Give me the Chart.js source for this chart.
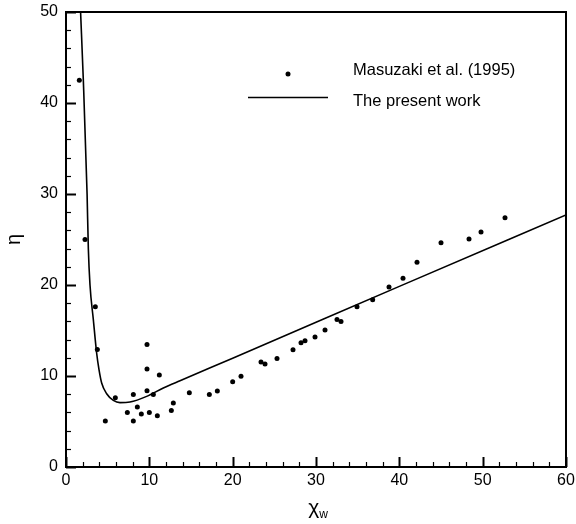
<!DOCTYPE html>
<html>
<head>
<meta charset="utf-8">
<title>eta vs chi_w</title>
<script src="https://cdn.jsdelivr.net/npm/chart.js@4.4.1/dist/chart.umd.min.js"></script>
<style>
  html, body { margin: 0; padding: 0; background: #fff; }
  #wrap { width: 576px; height: 524px; }
</style>
</head>
<body>
<div id="wrap"><canvas id="etaChart"></canvas></div>
<script>
// Masuzaki et al. (1995) measured points
var measX = [1.6, 2.28, 3.52, 3.76, 4.72, 5.92, 7.36, 8.08, 8.08, 8.56, 9.04, 9.72, 9.72, 9.72, 10.0, 10.48, 10.96, 11.2,
             12.64, 12.88, 14.8, 17.2, 18.16, 20.0, 21.0, 23.4, 23.88, 25.32, 27.24, 28.2, 28.68, 29.88, 31.08, 32.52,
             33.0, 34.92, 36.8, 38.76, 40.44, 42.12, 45.0, 48.36, 49.8, 52.68];
var measY = [42.5, 25.0, 17.6, 12.9, 5.05, 7.62, 6.0, 7.98, 5.05, 6.59, 5.82, 13.47, 10.77, 8.38, 6.0, 7.98, 5.64, 10.1,
             6.22, 7.03, 8.16, 7.98, 8.35, 9.37, 9.96, 11.54, 11.32, 11.93, 12.89, 13.66, 13.88, 14.29, 15.05, 16.22,
             16.0, 17.6, 18.38, 19.78, 20.73, 22.49, 24.65, 25.05, 25.82, 27.4];

// the present work (curve)
var curveX = [1.75, 2.08, 2.53, 2.68, 2.88, 3.28, 3.68, 3.96, 4.28, 4.88, 5.68, 6.48, 7.68, 9.68, 11.68, 13.68, 20, 40, 60];
var curveY = [50, 42.5, 30, 24, 20, 16.2, 12.5, 10.7, 9.23, 8.05, 7.32, 7.07, 7.14, 7.76, 8.68, 9.48, 11.95, 19.85, 27.7];

var xTicks = [0, 10, 20, 30, 40, 50, 60];
var yTicks = [0, 10, 20, 30, 40, 50];
var seriesNames = ['Masuzaki et al. (1995)', 'The present work'];

var FONT = "'Liberation Sans', Arial, Helvetica, sans-serif";

function pairs(xs, ys) {
  return xs.map(function (x, i) { return { x: x, y: ys[i] }; });
}

// frame, inward ticks, legend and x title
var decor = {
  id: 'decor',
  afterDraw: function (chart) {
    var ctx = chart.ctx, a = chart.chartArea;
    var sx = chart.scales.x, sy = chart.scales.y;
    ctx.save();
    ctx.strokeStyle = '#000';
    for (var v = 0; v <= 60; v += 2) {
      var px = Math.round(sx.getPixelForValue(v)) + 0.5;
      var len = (v % 10 === 0) ? 10 : 5;
      ctx.lineWidth = (v % 10 === 0) ? 2 : 1.2;
      ctx.beginPath(); ctx.moveTo(px, a.bottom); ctx.lineTo(px, a.bottom - len); ctx.stroke();
    }
    for (var w = 0; w <= 50; w += 2) {
      var py = Math.round(sy.getPixelForValue(w)) + 0.5;
      var l2 = (w % 10 === 0) ? 10 : 5;
      ctx.lineWidth = (w % 10 === 0) ? 2 : 1.2;
      ctx.beginPath(); ctx.moveTo(a.left, py); ctx.lineTo(a.left + l2, py); ctx.stroke();
    }
    ctx.lineWidth = 2;
    ctx.strokeRect(a.left, a.top, a.right - a.left, a.bottom - a.top);

    // legend
    ctx.fillStyle = '#000';
    ctx.beginPath(); ctx.arc(288, 74, 2.5, 0, Math.PI * 2); ctx.fill();
    ctx.lineWidth = 1.5;
    ctx.beginPath(); ctx.moveTo(248, 97.5); ctx.lineTo(328, 97.5); ctx.stroke();
    ctx.font = '16.5px ' + FONT;
    ctx.textBaseline = 'alphabetic';
    ctx.textAlign = 'left';
    ctx.fillText(seriesNames[0], 353, 74.5);
    ctx.fillText(seriesNames[1], 353, 106);

    // x axis title: chi with subscript w, centred under the axis
    ctx.font = '21px ' + FONT;
    var chiW = ctx.measureText('\u03C7').width;
    ctx.font = '12px ' + FONT;
    var wW = ctx.measureText('w').width;
    var x0 = (a.left + a.right) / 2 + 2 - (chiW + wW) / 2;
    ctx.font = '21px ' + FONT;
    ctx.fillText('\u03C7', x0, 514);
    ctx.font = '12px ' + FONT;
    ctx.fillText('w', x0 + chiW, 518);
    ctx.restore();
  }
};

var ctx = document.getElementById('etaChart').getContext('2d');
var etaChart = new Chart(ctx, {
  type: 'scatter',
  data: {
    datasets: [{
      label: seriesNames[0],
      data: pairs(measX, measY),
      pointRadius: 2.5,
      pointBackgroundColor: '#000',
      pointBorderWidth: 0,
      showLine: false
    }, {
      label: seriesNames[1],
      data: pairs(curveX, curveY),
      showLine: true,
      borderColor: '#000',
      borderWidth: 1.6,
      pointRadius: 0,
      cubicInterpolationMode: 'monotone',
      clip: 0
    }]
  },
  plugins: [decor],
  options: {
    responsive: true,
    maintainAspectRatio: false,
    animation: false,
    layout: { padding: { top: 12, right: 10, left: 0, bottom: 0 } },
    plugins: {
      legend: { display: false },
      tooltip: { enabled: false }
    },
    scales: {
      x: {
        type: 'linear',
        min: 0, max: 60,
        afterBuildTicks: function (s) { s.ticks = xTicks.map(function (v) { return { value: v }; }); },
        afterFit: function (s) { s.height = 57; s.paddingLeft = 0; s.paddingRight = 0; },
        grid: { display: false, drawTicks: false },
        border: { display: false },
        ticks: { color: '#000', padding: 4, maxRotation: 0, font: { size: 16, family: FONT } }
      },
      y: {
        type: 'linear',
        min: 0, max: 50,
        afterBuildTicks: function (s) { s.ticks = yTicks.map(function (v) { return { value: v }; }); },
        afterFit: function (s) { s.width = 66; s.paddingTop = 0; s.paddingBottom = 0; },
        grid: { display: false, drawTicks: false },
        border: { display: false },
        title: { display: true, text: '\u03B7', color: '#000', padding: { top: 2, bottom: 0 }, font: { size: 20, family: FONT } },
        ticks: { color: '#000', padding: 8, font: { size: 16, family: FONT } }
      }
    }
  }
});
</script>
</body>
</html>
